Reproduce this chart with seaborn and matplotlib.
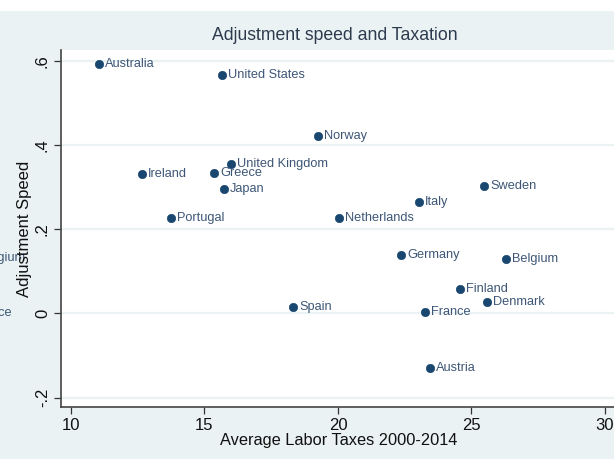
import matplotlib
matplotlib.use("Agg")
import matplotlib.pyplot as plt
import seaborn as sns
import pandas as pd

# Data
countries = ['Australia', 'United States', 'Norway', 'United Kingdom', 'Greece',
             'Ireland', 'Japan', 'Portugal', 'Netherlands', 'Italy', 'Sweden',
             'Germany', 'Belgium', 'Finland', 'Denmark', 'France', 'Spain', 'Austria']
labor_taxes = [11.05, 15.66, 19.25, 15.99, 15.36, 12.66, 15.73, 13.75, 20.04,
               23.03, 25.47, 22.36, 26.29, 24.57, 25.58, 23.26, 18.31, 23.45]
adj_speed = [0.591, 0.566, 0.421, 0.355, 0.334, 0.330, 0.296, 0.226, 0.226,
             0.264, 0.303, 0.139, 0.129, 0.057, 0.027, 0.003, 0.015, -0.129]
x_ticks = [10, 15, 20, 25, 30]
y_ticks = [-0.2, 0, 0.2, 0.4, 0.6]
y_tick_labels = ['-.2', '0', '.2', '.4', '.6']

df = pd.DataFrame({'country': countries, 'tax': labor_taxes, 'speed': adj_speed})

sns.set_style('white')
plt.rcParams['font.family'] = ['Liberation Sans', 'DejaVu Sans']

bg = '#eaf2f3'
navy = '#1a476f'
label_col = '#3d5676'

W, H = 614, 459
fig = plt.figure(figsize=(W / 100, H / 100), dpi=100, facecolor=bg)
# white strip along the top edge
fig.patches.append(plt.Rectangle((0, 1 - 11 / H), 1, 11 / H, transform=fig.transFigure,
                                 facecolor='white', edgecolor='none', zorder=0))

# labels from the neighbouring panel that are cut off at the left edge
fig.text(25 / W, 1 - 258 / H, 'Belgium', ha='right', va='center', fontsize=9.2,
         color=label_col, zorder=0)
fig.text(12 / W, 1 - 313 / H, 'France', ha='right', va='center', fontsize=9.2,
         color=label_col, zorder=0)

ax = fig.add_axes([61 / W, 1 - 407.3 / H, 1 - 61 / W, (407.3 - 50) / H])
ax.set_facecolor('white')

for yt in y_ticks:
    ax.axhline(yt, color=bg, lw=1.6, zorder=0)

sns.scatterplot(data=df, x='tax', y='speed', ax=ax, color=navy, s=36,
                edgecolor=navy, linewidth=0.5, zorder=3, legend=False)

for _, r in df.iterrows():
    ax.annotate(r['country'], (r['tax'], r['speed']), xytext=(4.5, 0),
                textcoords='offset points', ha='left', va='center',
                fontsize=9.2, color=label_col, zorder=4)

ax.set_xlim(9.625, 30.34)
ax.set_ylim(-0.2228, 0.6254)
ax.set_xticks(x_ticks)
ax.set_xticklabels([str(t) for t in x_ticks], fontsize=12)
ax.set_yticks(y_ticks)
ax.set_yticklabels(y_tick_labels, fontsize=12, rotation=90, va='center')
ax.tick_params(axis='both', direction='out', length=5, width=0.9, color='#333333',
               labelcolor='#111111', pad=3)
ax.xaxis.set_ticks_position('bottom')
ax.yaxis.set_ticks_position('left')
ax.set_xlabel('')
ax.set_ylabel('')

for side in ['top', 'right']:
    ax.spines[side].set_visible(False)
for side in ['left', 'bottom']:
    ax.spines[side].set_color('#444444')
    ax.spines[side].set_linewidth(1.2)

fig.text(335 / W, 1 - 36 / H, 'Adjustment speed and Taxation', ha='center', va='center',
         fontsize=12.7, color='#2d3b4e')
fig.text(339 / W, 1 - 440 / H, 'Average Labor Taxes 2000-2014', ha='center', va='center',
         fontsize=11.8, color='#111111')
fig.text(25 / W, 1 - 228.5 / H, 'Adjustment Speed', ha='center', va='center',
         rotation=90, fontsize=12, color='#111111')

fig.savefig('out.png', dpi=100, facecolor=bg)
